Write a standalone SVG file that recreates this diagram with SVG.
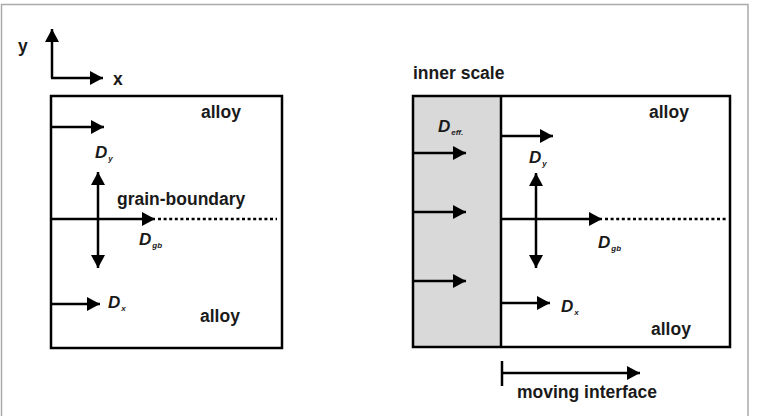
<svg xmlns="http://www.w3.org/2000/svg" width="759" height="416" viewBox="0 0 759 416">
<defs>
<marker id="ah" markerUnits="userSpaceOnUse" markerWidth="14" markerHeight="14" refX="13" refY="7" orient="auto-start-reverse" viewBox="0 0 14 14">
<path d="M0,0 L13,7 L0,14 z" fill="#000"/>
</marker>
<style>
.t{font-family:"Liberation Sans",Arial,sans-serif;font-weight:bold;font-size:17.5px;fill:#1a1a1a}
.d{font-family:"Liberation Sans",Arial,sans-serif;font-weight:bold;font-style:italic;font-size:17px;fill:#1a1a1a}
.s{font-size:8px}
.box{fill:none;stroke:#000;stroke-width:2.5}
.ln{stroke:#000;stroke-width:2.5;fill:none}
.ar{stroke:#000;stroke-width:2.5;fill:none;marker-end:url(#ah)}
.dot{stroke:#000;stroke-width:2.5;stroke-dasharray:3 2.6;fill:none}
</style>
</defs>
<rect x="0" y="0" width="759" height="416" fill="#fff"/>
<path d="M1.5,420 V4.5 H748 V420" fill="none" stroke="#aaa" stroke-width="1.5"/>

<g id="axes">
<line class="ar" x1="52" y1="78" x2="52" y2="29"/>
<line class="ar" x1="51" y1="78" x2="103" y2="78"/>
<text class="t" x="18" y="52">y</text>
<text class="t" x="113" y="85">x</text>
</g>

<g id="left-panel">
<rect class="box" x="51" y="96" width="231" height="252"/>
<text class="t" x="201" y="118">alloy</text>
<text class="t" x="200" y="322">alloy</text>
<text class="t" x="117" y="205">grain-boundary</text>
<text class="d" x="95" y="158">D<tspan class="s" dx="1" dy="3">y</tspan></text>
<text class="d" x="139" y="245">D<tspan class="s" dx="1" dy="3">gb</tspan></text>
<text class="d" x="108" y="308">D<tspan class="s" dx="1" dy="3">x</tspan></text>
</g>

<g id="right-panel">
<rect x="413" y="96" width="88" height="251" fill="#d9d9d9"/>
<rect class="box" x="413" y="96" width="317" height="251"/>
<line class="ln" x1="501" y1="96" x2="501" y2="347"/>
<text class="t" x="413" y="79">inner scale</text>
<text class="t" x="649" y="118">alloy</text>
<text class="t" x="651" y="335">alloy</text>
<text class="d" x="438" y="132">D<tspan class="s" dx="1" dy="3">eff.</tspan></text>
<text class="d" x="529" y="163">D<tspan class="s" dx="1" dy="3">y</tspan></text>
<text class="d" x="598" y="248">D<tspan class="s" dx="1" dy="3">gb</tspan></text>
<text class="d" x="561" y="312">D<tspan class="s" dx="1" dy="3">x</tspan></text>
<text class="t" x="517" y="398">moving interface</text>
</g>

<g id="connectors">
<line class="ar" x1="51" y1="127" x2="104" y2="127"/>
<line class="ar" x1="98" y1="172" x2="98" y2="268" style="marker-start:url(#ah)"/>
<line class="ar" x1="51" y1="219" x2="155" y2="219"/>
<line class="dot" x1="158" y1="219" x2="277" y2="219"/>
<line class="ar" x1="51" y1="304" x2="100" y2="304"/>

<line class="ar" x1="413" y1="153" x2="466" y2="153"/>
<line class="ar" x1="413" y1="212" x2="466" y2="212"/>
<line class="ar" x1="413" y1="281" x2="466" y2="281"/>
<line class="ar" x1="501" y1="136" x2="553" y2="136"/>
<line class="ar" x1="536" y1="173" x2="536" y2="268" style="marker-start:url(#ah)"/>
<line class="ar" x1="501" y1="219" x2="602" y2="219"/>
<line class="dot" x1="605" y1="219" x2="727" y2="219"/>
<line class="ar" x1="501" y1="303" x2="550" y2="303"/>
<line class="ln" x1="502" y1="361" x2="502" y2="386"/>
<line class="ar" x1="502" y1="373" x2="640" y2="373"/>
</g>
</svg>
